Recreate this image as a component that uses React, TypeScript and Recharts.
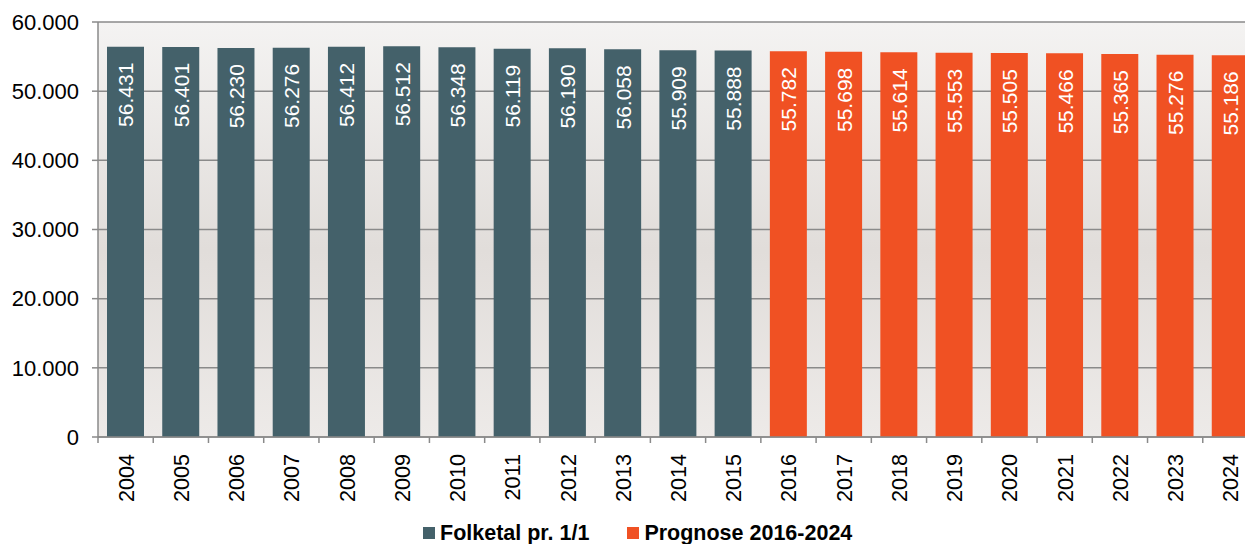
import { BarChart, Bar, XAxis, YAxis, CartesianGrid, Legend, LabelList } from "recharts";

const years = [
  "2004", "2005", "2006", "2007", "2008", "2009", "2010", "2011", "2012", "2013", "2014",
  "2015", "2016", "2017", "2018", "2019", "2020", "2021", "2022", "2023", "2024",
];
// folketal pr. 1/1, 2004-2015
const folketal = [56431, 56401, 56230, 56276, 56412, 56512, 56348, 56119, 56190, 56058, 55909, 55888];
// prognose, 2016-2024
const prognose = [55782, 55698, 55614, 55553, 55505, 55466, 55365, 55276, 55186];
const yTicks = [0, 10000, 20000, 30000, 40000, 50000, 60000];

const data = years.map((year, i) => ({
  year,
  folketal: i < folketal.length ? folketal[i] : null,
  prognose: i >= folketal.length ? prognose[i - folketal.length] : null,
}));

const FONT = "'Liberation Sans', Arial, sans-serif";
const TEAL = "#44616a";
const ORANGE = "#f05123";
const AXIS = "#8a8a8a";

const CHART_W = 1258;
const PLOT_LEFT = 98;
const BAND = (CHART_W - PLOT_LEFT) / years.length;

const fmt = (v: number) => String(v).replace(/\B(?=(\d{3})+(?!\d))/g, ".");

const YearTick = (props: any) => {
  const { x, y, payload } = props;
  const lx = x - BAND / 2;
  const tx = x + 8;
  const ty = y + 17;
  return (
    <g>
      <line x1={lx} y1={y} x2={lx} y2={y + 6} stroke={AXIS} strokeWidth={1.5} />
      <text
        x={tx}
        y={ty}
        transform={`rotate(-90, ${tx}, ${ty})`}
        textAnchor="end"
        fill="#000"
        fontSize={21.6}
        fontFamily={FONT}
      >
        {payload.value}
      </text>
    </g>
  );
};

const BarValue = (props: any) => {
  const { x, y, width, value } = props;
  if (value == null) return null;
  const cx = x + width / 2 + 8;
  const top = y + 16;
  return (
    <text
      x={cx}
      y={top}
      transform={`rotate(-90, ${cx}, ${top})`}
      textAnchor="end"
      fill="#fff"
      fontSize={21}
      fontFamily={FONT}
    >
      {fmt(value)}
    </text>
  );
};

const LegendContent = () => (
  <div
    style={{
      display: "flex",
      alignItems: "center",
      height: 30,
      paddingTop: 7,
      paddingLeft: 423,
      boxSizing: "border-box",
      fontFamily: FONT,
      fontWeight: 700,
      fontSize: 21.5,
      lineHeight: "22px",
      color: "#000",
    }}
  >
    <span style={{ width: 12, height: 12, background: TEAL, marginRight: 5 }} />
    <span style={{ marginRight: 38 }}>Folketal pr. 1/1</span>
    <span style={{ width: 12, height: 12, background: ORANGE, marginRight: 5 }} />
    <span>Prognose 2016-2024</span>
  </div>
);

export default function App() {
  return (
    <div style={{ position: "absolute", left: 0, top: 0, width: 1245, height: 544, overflow: "hidden", background: "#fff" }}>
      <BarChart
        width={CHART_W}
        height={544}
        data={data}
        margin={{ top: 22, right: 0, left: 0, bottom: 17 }}
      >
        <defs>
          <linearGradient id="plotBg" x1="0" y1="0" x2="0" y2="1">
            <stop offset="0%" stopColor="#f4f3f2" />
            <stop offset="55%" stopColor="#e1ddda" />
            <stop offset="100%" stopColor="#edeae8" />
          </linearGradient>
        </defs>
        <CartesianGrid vertical={false} stroke={AXIS} strokeWidth={1.5} fill="url(#plotBg)" fillOpacity={1} />
        <XAxis
          dataKey="year"
          interval={0}
          height={60}
          tickLine={false}
          tickSize={0}
          tickMargin={0}
          axisLine={{ stroke: AXIS, strokeWidth: 1.5 }}
          tick={<YearTick />}
        />
        <YAxis
          width={PLOT_LEFT}
          domain={[0, 60000]}
          ticks={yTicks}
          tickFormatter={fmt}
          tickSize={6}
          tickMargin={13}
          axisLine={{ stroke: AXIS, strokeWidth: 1.5 }}
          tickLine={{ stroke: AXIS, strokeWidth: 1.5 }}
          tick={{ fill: "#000", fontSize: 22, fontFamily: FONT }}
        />
        <Legend
          verticalAlign="bottom"
          wrapperStyle={{ left: 0, bottom: 0, width: 1245 }}
          content={<LegendContent />}
        />
        <Bar dataKey="folketal" name="Folketal pr. 1/1" stackId="a" fill={TEAL} barSize={37} isAnimationActive={false}>
          <LabelList dataKey="folketal" content={<BarValue />} />
        </Bar>
        <Bar dataKey="prognose" name="Prognose 2016-2024" stackId="a" fill={ORANGE} barSize={37} isAnimationActive={false}>
          <LabelList dataKey="prognose" content={<BarValue />} />
        </Bar>
      </BarChart>
    </div>
  );
}
